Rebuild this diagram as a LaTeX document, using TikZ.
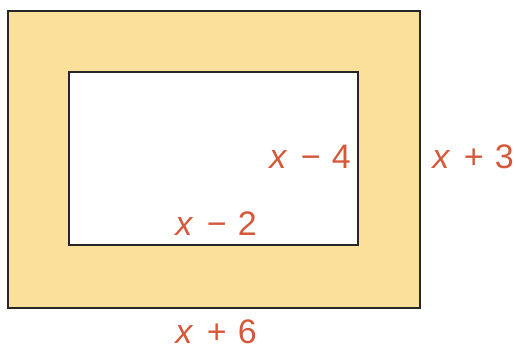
\documentclass[tikz,border=0pt]{standalone}
\usepackage{fontspec}
\setmainfont{Liberation Sans}
\usepackage{xcolor}
\usetikzlibrary{positioning}
\definecolor{frameyellow}{HTML}{FAE09B}
\definecolor{labelred}{HTML}{D6583B}

\begin{document}
\begin{tikzpicture}[x=1pt,y=-1pt]
       \tikzset{sidelabel/.style={text=labelred,inner sep=0pt,font=\fontsize{34}{38}\selectfont}}
       \useasboundingbox (0,0) rectangle (516,351);
       \draw[line width=2.4pt,draw=black!85,fill=frameyellow] (8,11) rectangle (420,308);
       \draw[line width=2.4pt,draw=black!85,fill=white] (69,72) rectangle (358,245);
       \node (innerh) [sidelabel] at (310,157) {\textit{x}\hspace{0.12em} − \hspace{0.05em}4};
       \node (outerh) [sidelabel] at (473,157) {\textit{x}\hspace{0.12em} + \hspace{0.05em}3};
       \node (innerw) [sidelabel] at (216,224) {\textit{x}\hspace{0.12em} − \hspace{0.05em}2};
       \node (outerw) [sidelabel] at (216,332) {\textit{x}\hspace{0.12em} + \hspace{0.05em}6};
    \end{tikzpicture}
\end{document}
